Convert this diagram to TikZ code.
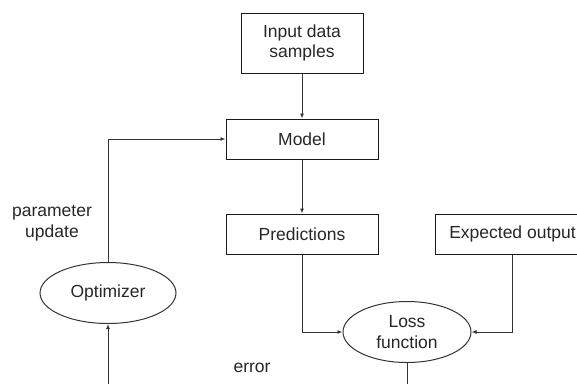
\documentclass[tikz,border=0pt]{standalone}
\usepackage{fontspec}
\setmainfont{Liberation Sans}
\usetikzlibrary{arrows.meta,shapes.geometric}
\tikzset{
	box/.style={draw=black!90, line width=1pt, rectangle, inner sep=0pt, align=center, text=black!85},
	oval/.style={draw=black!80, line width=1pt, ellipse, inner sep=0pt, minimum width=132, minimum height=61, align=center, text=black!85},
	wire/.style={draw=black!80, line width=1pt},
	tip/.style={wire, -{Latex[length=5pt,width=4pt]}}
}

\begin{document}
\begin{tikzpicture}[x=1pt, y=-1pt, font=\fontsize{17.5}{20.5}\selectfont]
			%%%%% START %%%%%
			
			\useasboundingbox (0, 0) rectangle (577, 383);
			\clip (0, 0) rectangle (577, 383);
			
			\node[box, minimum width=122, minimum height=60] (input) at (302, 43) {Input data\\samples};
			\node[box, minimum width=152, minimum height=40] (model) at (302, 139) {Model};
			\node[box, minimum width=152, minimum height=40] (pred) at (302, 234) {Predictions};
			\node[box, minimum width=155, minimum height=40] (expect) at (512.5, 234) {Expected output};
			
			\node[oval, minimum width=128] (loss) at (407, 332) {Loss\\function};
			\node[oval, minimum width=136] (opt) at (108, 293) {Optimizer};
			
			\node[align=center, text=black!85] (update) at (52, 223) {parameter\\update};
			\node[text=black!85] (err) at (252, 368) {error};
			
			\coordinate (lossend) at (407, 390);
			\coordinate (optstart) at (108, 390);
			
			\draw[tip] (input) -- (model);
			\draw[tip] (model) -- (pred);
			\draw[tip] (pred.south) |- (loss.west);
			\draw[tip] (expect.south) |- (loss.east);
			\draw[wire] (loss.south) -- (lossend);
			\draw[tip] (optstart) -- (opt.south);
			\draw[tip] (opt.north) |- (model.west);
			
			%%%%% END %%%%%
\end{tikzpicture}
\end{document}
